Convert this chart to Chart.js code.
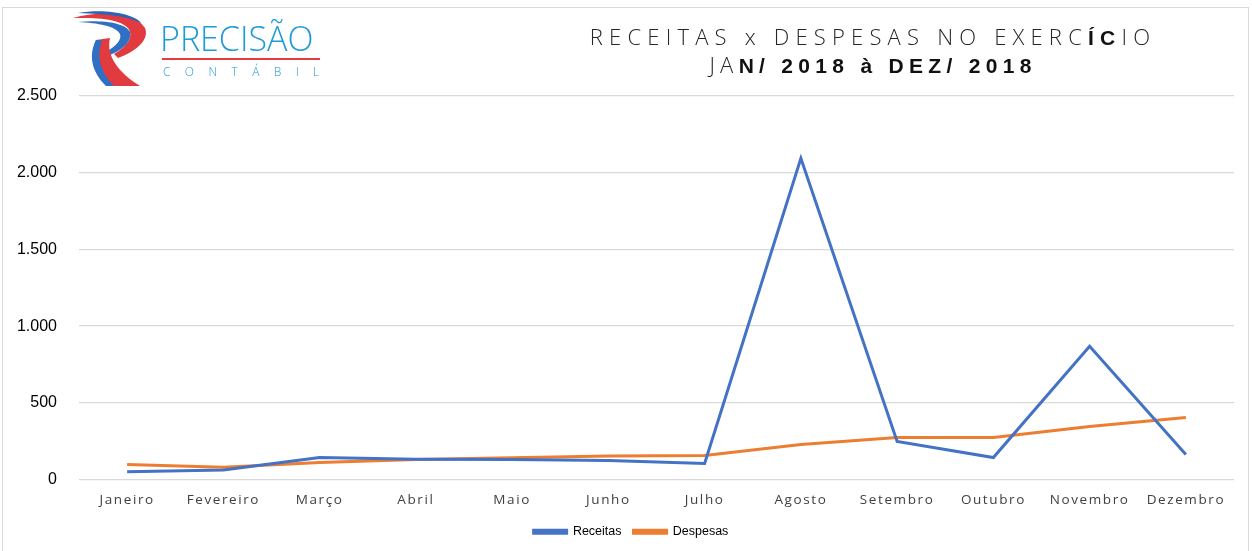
<!DOCTYPE html>
<html><head><meta charset="utf-8">
<script src="https://cdn.jsdelivr.net/npm/chart.js@4.4.1/dist/chart.umd.min.js"></script>
<style>
html,body{margin:0;padding:0;background:#fff;}
#wrap{position:relative;width:1252px;height:551px;overflow:hidden;}
#frame{position:absolute;left:2px;top:7px;width:1247px;height:560px;border:1px solid #d9d9d9;box-sizing:border-box;}
#c{position:absolute;left:0;top:0;}
#title{position:absolute;left:560px;width:626px;top:23px;text-align:center;color:#262626;line-height:27px;font-family:"Open Sans","Liberation Sans",sans-serif;font-weight:300;font-size:22px;}
#title .l1{letter-spacing:6.2px;}
#title .l2{letter-spacing:5.3px;}
#title b{font-family:"Liberation Sans",Arial,sans-serif;font-weight:bold;font-size:21px;color:#111;}
#brand{position:absolute;left:160px;top:18px;font-family:"Open Sans","Lato",sans-serif;font-weight:300;color:#1e9bd7;font-size:34px;letter-spacing:0px;line-height:40px;}
#rule{position:absolute;left:162px;top:58px;width:158px;height:2px;background:#e53b3f;}
#sub{position:absolute;left:163px;top:64px;font-family:"Open Sans","Lato",sans-serif;font-weight:300;color:#1e9bd7;font-size:12px;letter-spacing:14.4px;line-height:16px;}
</style></head>
<body>
<div id="wrap">
<div id="frame"></div>
<canvas id="c" width="1252" height="551"></canvas>
<svg viewBox="0 0 80 80" width="80" height="80" style="position:absolute;left:70px;top:10px;">
  <path d="M3,8 C30,0 65,2 75,18 C80,30 65,42 48,48 L44,44 C58,36 64,26 58,18 C48,8 25,8 3,8 Z" fill="#e23b3f"/>
  <path d="M8,3 C35,-2 66,4 72,14 C60,6 35,4 8,3 Z" fill="#2a63b8"/>
  <path d="M8,12 C30,10 55,12 60,22 C62,32 52,40 40,45 L36,42 C46,36 52,30 50,24 C46,16 28,13 8,12 Z" fill="#2f6fc4"/>
  <path d="M26,30 C20,45 26,62 42,76 L70,76 C48,62 36,46 40,28 Z" fill="#e23b3f"/>
  <path d="M26,30 C18,46 22,62 36,76 L44,76 C30,62 26,46 32,30 Z" fill="#2f6fc4"/>
</svg>
<div id="brand">PRECISÃO</div>
<div id="rule"></div>
<div id="sub">CONTÁBIL</div>
<div id="title"><div class="l1">RECEITAS x DESPESAS NO EXERC<b>ÍC</b>IO</div><div class="l2">JA<b>N/ 2018 à DEZ/ 2018</b></div></div>
</div>
<script>
const categories = ["Janeiro","Fevereiro","Março","Abril","Maio","Junho","Julho","Agosto","Setembro","Outubro","Novembro","Dezembro"];
const receitas = [50, 62, 143, 132, 130, 124, 104, 2094, 248, 143, 868, 163];
const despesas = [98, 80, 111, 130, 141, 154, 156, 228, 274, 274, 346, 404];
const yTicks = [0, 500, 1000, 1500, 2000, 2500];

function fmt(v){ return String(v).replace(/\B(?=(\d{3})+(?!\d))/g, "."); }

const ctx = document.getElementById('c').getContext('2d');
const xSpacing = {
  id:'xSpacing',
  afterLayout(chart){
    const s = chart.scales.x;
    if (!s._patched) {
      const orig = s.drawLabels.bind(s);
      s.drawLabels = function(area){
        const c = chart.ctx;
        c.save(); c.letterSpacing = '1.6px'; orig(area); c.restore();
      };
      s._patched = true;
    }
    if (chart.legend) { chart.legend.left += 14; chart.legend.right += 14; }
  }
};
new Chart(ctx, {
  type:'line',
  data:{ labels: categories, datasets:[
    {label:'Receitas', data: receitas, borderColor:'#4472C4', backgroundColor:'#4472C4', borderWidth:3, pointRadius:0, tension:0},
    {label:'Despesas', data: despesas, borderColor:'#ED7D31', backgroundColor:'#ED7D31', borderWidth:3, pointRadius:0, tension:0}
  ]},
  options:{
    responsive:false, animation:false,
    layout:{padding:{left:0,right:18,top:96,bottom:3}},
    plugins:{
      legend:{position:'bottom', labels:{boxWidth:33, boxHeight:3, padding:12, color:'#000', font:{family:'"Liberation Sans",Arial', size:12.5}}},
      tooltip:{enabled:false}
    },
    scales:{
      x:{ offset:true, grid:{display:false, drawTicks:false}, border:{display:false},
          ticks:{color:'#404040', padding:13, maxRotation:0, autoSkip:false, font:{family:'"Open Sans","Liberation Sans",Arial', size:13.5}},
          afterFit(s){ s.height = 34; } },
      y:{ min:0, max:2500, afterBuildTicks(s){ s.ticks = yTicks.map(v=>({value:v})); },
          grid:{color:'#d9d9d9', lineWidth:1.3, drawTicks:false}, border:{display:false},
          ticks:{color:'#000', padding:22, font:{family:'"Liberation Sans",Arial', size:16}, callback:v=>fmt(v)},
          afterFit(s){ s.width = 79; } }
    }
  },
  plugins:[xSpacing]
});
</script>
</body></html>
